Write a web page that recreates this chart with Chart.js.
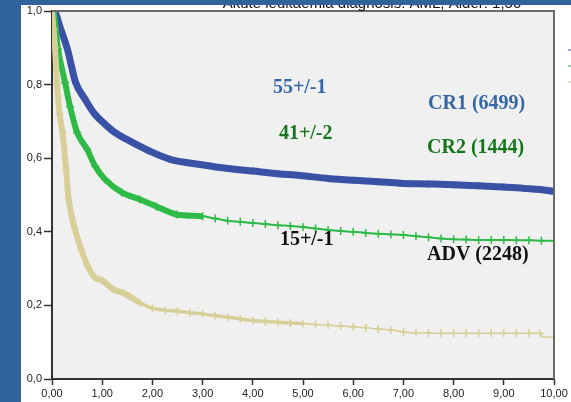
<!DOCTYPE html>
<html>
<head>
<meta charset="utf-8">
<script src="https://cdn.jsdelivr.net/npm/chart.js@4.4.1/dist/chart.umd.min.js"></script>
<style>
  html, body { margin: 0; padding: 0; background: #fff; }
  canvas { display: block; }
</style>
</head>
<body>
<canvas id="kmChart" width="571" height="402"></canvas>
<script>
// Survival curves (time in years, survival fraction)
const cr1Time = [0, 0.06, 0.15, 0.31, 0.47, 0.66, 0.85, 1.06, 1.25, 1.49, 1.95, 2.35, 2.95, 3.5, 4.0, 4.5, 4.94, 5.5, 6.0, 6.5, 6.93, 7.5, 8.0, 8.5, 9.0, 9.4, 9.72, 10.0];
const cr1Surv = [1.0, 0.997, 0.96, 0.895, 0.806, 0.76, 0.72, 0.692, 0.67, 0.651, 0.619, 0.597, 0.583, 0.572, 0.565, 0.558, 0.553, 0.545, 0.54, 0.536, 0.532, 0.53, 0.528, 0.525, 0.522, 0.518, 0.515, 0.51];

const cr2Time = [0, 0.02, 0.12, 0.26, 0.36, 0.5, 0.7, 0.86, 1.06, 1.39, 1.75, 2.08, 2.48, 3.0, 3.25, 3.5, 3.75, 4.0, 4.25, 4.5, 4.75, 5.0, 5.25, 5.5, 5.75, 6.0, 6.25, 6.5, 6.75, 7.0, 7.25, 7.5, 7.75, 8.0, 8.25, 8.5, 8.75, 9.0, 9.25, 9.5, 9.75, 10.0];
const cr2Surv = [1.0, 1.0, 0.896, 0.806, 0.74, 0.67, 0.624, 0.578, 0.542, 0.507, 0.488, 0.469, 0.447, 0.442, 0.436, 0.43, 0.427, 0.424, 0.421, 0.418, 0.416, 0.413, 0.409, 0.405, 0.402, 0.4, 0.397, 0.395, 0.393, 0.391, 0.388, 0.385, 0.382, 0.38, 0.379, 0.378, 0.378, 0.378, 0.377, 0.377, 0.376, 0.375];

const advTime = [0, 0.03, 0.06, 0.1, 0.15, 0.21, 0.28, 0.33, 0.45, 0.59, 0.7, 0.86, 1.0, 1.2, 1.42, 1.55, 1.75, 2.0, 2.25, 2.5, 2.75, 3.0, 3.25, 3.5, 3.75, 4.0, 4.25, 4.5, 4.75, 5.0, 5.25, 5.5, 5.75, 6.0, 6.25, 6.5, 6.75, 7.0, 7.25, 7.5, 7.75, 8.0, 8.25, 8.5, 8.75, 9.0, 9.25, 9.5, 9.72, 9.78, 10.0];
const advSurv = [1.0, 0.95, 0.9, 0.8, 0.72, 0.67, 0.57, 0.49, 0.41, 0.35, 0.31, 0.275, 0.268, 0.245, 0.234, 0.224, 0.207, 0.192, 0.187, 0.184, 0.18, 0.177, 0.172, 0.168, 0.163, 0.159, 0.156, 0.154, 0.152, 0.151, 0.148, 0.146, 0.144, 0.142, 0.139, 0.136, 0.133, 0.128, 0.125, 0.125, 0.124, 0.124, 0.124, 0.124, 0.124, 0.124, 0.124, 0.124, 0.124, 0.114, 0.114];

const xTickLabels = ['0,00', '1,00', '2,00', '3,00', '4,00', '5,00', '6,00', '7,00', '8,00', '9,00', '10,00'];
const yTickLabels = ['0,0', '0,2', '0,4', '0,6', '0,8', '1,0'];

// Text written inside the plot, placed in data coordinates
const noteText = ['55+/-1', 'CR1 (6499)', '41+/-2', 'CR2 (1444)', '15+/-1', 'ADV (2248)'];
const noteX = [4.40, 7.49, 4.52, 7.47, 4.54, 7.47];
const noteY = [0.790, 0.749, 0.665, 0.627, 0.379, 0.338];
const noteColor = ['#3567a6', '#3567a6', '#17761b', '#17761b', '#111', '#111'];

const titleText = 'Akute leukaemia diagnosis: AML, Alder: 1,50';

const toPoints = (t, s) => t.map((v, i) => ({ x: v, y: s[i] }));

// Frame, bands, titles and notes that are not part of a dataset
const decorPlugin = {
  id: 'decor',
  beforeDraw(chart) {
    const { ctx, chartArea: a } = chart;
    ctx.save();
    ctx.fillStyle = '#fff';
    ctx.fillRect(0, 0, chart.width, chart.height);
    ctx.fillStyle = '#f0f0f0';
    ctx.fillRect(a.left, a.top, a.right - a.left, a.bottom - a.top);
    ctx.restore();
  },
  afterDraw(chart) {
    const { ctx, chartArea: a, scales } = chart;
    ctx.save();

    // top and right frame lines
    ctx.strokeStyle = '#6a6a6a';
    ctx.lineWidth = 2;
    ctx.beginPath();
    ctx.moveTo(a.left, a.top);
    ctx.lineTo(a.right, a.top);
    ctx.lineTo(a.right, a.bottom);
    ctx.stroke();

    // notes
    ctx.font = 'bold 20px "Liberation Serif", "Times New Roman", serif';
    ctx.textBaseline = 'middle';
    ctx.textAlign = 'left';
    noteText.forEach((txt, i) => {
      ctx.fillStyle = noteColor[i];
      ctx.fillText(txt, scales.x.getPixelForValue(noteX[i]), scales.y.getPixelForValue(noteY[i]));
    });

    // title, mostly hidden under the slide band
    ctx.font = '15px "Liberation Sans", Arial, sans-serif';
    ctx.fillStyle = '#111';
    ctx.textAlign = 'center';
    ctx.textBaseline = 'alphabetic';
    ctx.fillText(titleText, 372, 8);

    // slide bands
    ctx.fillStyle = '#2e6499';
    ctx.fillRect(0, 0, chart.width, 5);
    ctx.fillRect(0, 0, 21, chart.height);

    // cut-off legend marks at right edge
    const marks = ['#9aa6da', '#8fd79a', '#e8e2c2'];
    marks.forEach((c, i) => {
      ctx.fillStyle = c;
      ctx.fillRect(568, 49 + i * 16, 3, 2);
    });
    ctx.restore();
  }
};

const ctx = document.getElementById('kmChart').getContext('2d');
new Chart(ctx, {
  type: 'line',
  data: {
    datasets: [
      {
        label: 'ADV',
        data: toPoints(advTime, advSurv),
        borderColor: '#d8cf98',
        backgroundColor: '#d8cf98',
        cubicInterpolationMode: 'monotone',
        pointStyle: 'cross',
        pointRadius: c => (c.raw && c.raw.x > 9.75) ? 0 : 4,
        pointBorderWidth: 1.5,
        segment: {
          borderWidth: c => c.p0.parsed.x < 1.6 ? 6 : (c.p0.parsed.x < 4.8 ? 3.5 : 1.5)
        }
      },
      {
        label: 'CR2',
        data: toPoints(cr2Time, cr2Surv),
        borderColor: '#2fba48',
        backgroundColor: '#2fba48',
        cubicInterpolationMode: 'monotone',
        pointStyle: 'cross',
        pointRadius: 4,
        pointBorderWidth: 1.5,
        segment: {
          borderWidth: c => c.p0.parsed.x < 2.9 ? 6 : 2
        }
      },
      {
        label: 'CR1',
        data: toPoints(cr1Time, cr1Surv),
        borderColor: '#3a52a6',
        backgroundColor: '#3a52a6',
        borderWidth: 7,
        cubicInterpolationMode: 'monotone',
        pointStyle: 'cross',
        pointRadius: 3.5,
        pointBorderWidth: 1.5
      }
    ]
  },
  options: {
    responsive: false,
    animation: false,
    parsing: false,
    layout: { padding: { left: 21, top: 11, right: 17, bottom: 0 } },
    plugins: {
      legend: { display: false },
      tooltip: { enabled: false }
    },
    scales: {
      x: {
        type: 'linear',
        min: 0,
        max: 10,
        afterFit: s => { s.height = 23; },
        ticks: {
          stepSize: 1,
          padding: 2,
          color: '#222',
          font: { family: '"Liberation Sans", Arial, sans-serif', size: 11 },
          callback: (v, i) => xTickLabels[i]
        },
        grid: { drawOnChartArea: false, tickLength: 6, tickWidth: 1.5, color: '#333' },
        border: { color: '#333', width: 2 }
      },
      y: {
        min: 0,
        max: 1,
        afterFit: s => { s.width = 31; },
        ticks: {
          stepSize: 0.2,
          padding: 2,
          color: '#222',
          font: { family: '"Liberation Sans", Arial, sans-serif', size: 11 },
          callback: (v, i) => yTickLabels[i]
        },
        grid: { drawOnChartArea: false, tickLength: 8, tickWidth: 1.5, color: '#333' },
        border: { color: '#333', width: 2 }
      }
    }
  },
  plugins: [decorPlugin]
});
</script>
</body>
</html>
